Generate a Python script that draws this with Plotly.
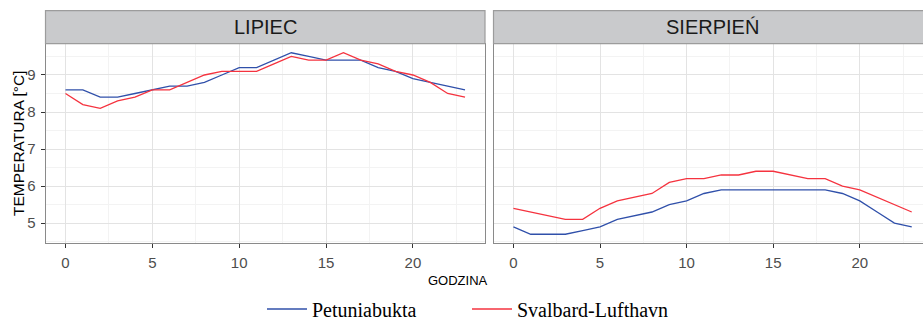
import plotly.graph_objects as go

hours = list(range(24))
series_names = ["Petuniabukta", "Svalbard-Lufthavn"]
panel_titles = ["LIPIEC", "SIERPIEŃ"]

lipiec_petuniabukta = [8.6, 8.6, 8.4, 8.4, 8.5, 8.6, 8.7, 8.7, 8.8, 9.0, 9.2, 9.2,
                       9.4, 9.6, 9.5, 9.4, 9.4, 9.4, 9.2, 9.1, 8.9, 8.8, 8.7, 8.6]
lipiec_svalbard = [8.5, 8.2, 8.1, 8.3, 8.4, 8.6, 8.6, 8.8, 9.0, 9.1, 9.1, 9.1,
                   9.3, 9.5, 9.4, 9.4, 9.6, 9.4, 9.3, 9.1, 9.0, 8.8, 8.5, 8.4]
sierpien_petuniabukta = [4.9, 4.7, 4.7, 4.7, 4.8, 4.9, 5.1, 5.2, 5.3, 5.5, 5.6, 5.8,
                         5.9, 5.9, 5.9, 5.9, 5.9, 5.9, 5.9, 5.8, 5.6, 5.3, 5.0, 4.9]
sierpien_svalbard = [5.4, 5.3, 5.2, 5.1, 5.1, 5.4, 5.6, 5.7, 5.8, 6.1, 6.2, 6.2,
                     6.3, 6.3, 6.4, 6.4, 6.3, 6.2, 6.2, 6.0, 5.9, 5.7, 5.5, 5.3]

x_ticks = [0, 5, 10, 15, 20]
y_ticks = [5, 6, 7, 8, 9]
x_minor = [2.5, 7.5, 12.5, 17.5, 22.5]
y_minor = [4.5, 5.5, 6.5, 7.5, 8.5, 9.5]

colors = ["#3050aa", "#f5333f"]
W, H = 923, 320

fig = go.Figure()
legend_ids = ["legend", "legend2"]
data = [(lipiec_petuniabukta, lipiec_svalbard, "x", "y"),
        (sierpien_petuniabukta, sierpien_svalbard, "x2", "y2")]
for i, (a, b, xa, ya) in enumerate(data):
    for j, vals in enumerate((a, b)):
        fig.add_trace(go.Scatter(x=hours, y=vals, mode="lines", name=series_names[j],
                                 line=dict(color=colors[j], width=1.3),
                                 xaxis=xa, yaxis=ya, showlegend=(i == 0),
                                 legend=legend_ids[j]))

def px_x(p):
    return p / W

def px_y(p):
    return (H - p) / H

top, bot = 43.7, 243.3
strip_top = 10.7
left_dom = [px_x(45.5), px_x(485)]
right_dom = [px_x(493.5), 1.0]
ydom = [px_y(bot), px_y(top)]

grid = "#e3e3e3"
minor_grid = "#f3f3f3"
tickfont = dict(family="Liberation Sans", size=15, color="#4d4d4d")
base = dict(showgrid=True, gridcolor=grid, gridwidth=1, zeroline=False, automargin=False,
            tickcolor="#333333", tickwidth=1, tickfont=tickfont,
            showline=True, linecolor="#8a8a8a", linewidth=1)

fig.update_layout(
    template="none",
    xaxis=dict(domain=left_dom, range=[-1.15, 24.15], tickvals=x_ticks, ticks="outside", ticklen=4,
               ticklabelstandoff=2, mirror=True, anchor="y",
               minor=dict(tickvals=x_minor, showgrid=True, gridcolor=minor_grid, gridwidth=1), **base),
    xaxis2=dict(domain=right_dom, range=[-1.15, 23.65], tickvals=x_ticks, ticks="outside", ticklen=4,
                ticklabelstandoff=2, anchor="y2",
                minor=dict(tickvals=x_minor, showgrid=True, gridcolor=minor_grid, gridwidth=1), **base),
    yaxis=dict(domain=ydom, range=[4.455, 9.845], tickvals=y_ticks, ticks="outside", ticklen=4,
               ticklabelstandoff=2, anchor="x", mirror=True,
               minor=dict(tickvals=y_minor, showgrid=True, gridcolor=minor_grid, gridwidth=1), **base),
    yaxis2=dict(domain=ydom, range=[4.455, 9.845], tickvals=y_ticks, showticklabels=False, ticks="",
                anchor="x2",
                minor=dict(tickvals=y_minor, showgrid=True, gridcolor=minor_grid, gridwidth=1), **base),
)

shapes = []
for dom in (left_dom, right_dom):
    shapes.append(dict(type="rect", xref="paper", yref="paper",
                       x0=dom[0], x1=dom[1] + (0.01 if dom[1] >= 1 else 0),
                       y0=px_y(top), y1=px_y(strip_top),
                       fillcolor="#c9cacc", line=dict(color="#9c9c9c", width=1.2),
                       layer="above"))
fig.update_layout(shapes=shapes)

annotations = []
for dom, title in zip((left_dom, [px_x(493.5), px_x(932)]), panel_titles):
    annotations.append(dict(text=title, x=(dom[0] + dom[1]) / 2, y=px_y((top + strip_top) / 2),
                            xref="paper", yref="paper", showarrow=False,
                            xanchor="center", yanchor="middle",
                            font=dict(family="Liberation Sans", size=20, color="#1a1a1a")))
annotations.append(dict(text="GODZINA", x=px_x(458), y=px_y(280), xref="paper", yref="paper",
                        showarrow=False, xanchor="center", yanchor="middle",
                        font=dict(family="Liberation Sans", size=13, color="#000000")))
annotations.append(dict(text="TEMPERATURA [°C]", x=px_x(18), y=px_y(144), xref="paper", yref="paper",
                        showarrow=False, xanchor="center", yanchor="middle", textangle=-90,
                        font=dict(family="Liberation Sans", size=15.5, color="#000000")))
fig.update_layout(annotations=annotations)

legend_style = dict(orientation="h", yanchor="middle", y=px_y(309),
                    font=dict(family="Liberation Serif", size=20, color="#000000"),
                    itemwidth=40, bgcolor="rgba(0,0,0,0)", xanchor="left")
fig.update_layout(
    width=W, height=H, margin=dict(l=0, r=0, t=0, b=0, autoexpand=False),
    paper_bgcolor="white", plot_bgcolor="white",
    legend=dict(x=px_x(262), **legend_style),
    legend2=dict(x=px_x(467), **legend_style),
)

fig.write_html("out.html")
